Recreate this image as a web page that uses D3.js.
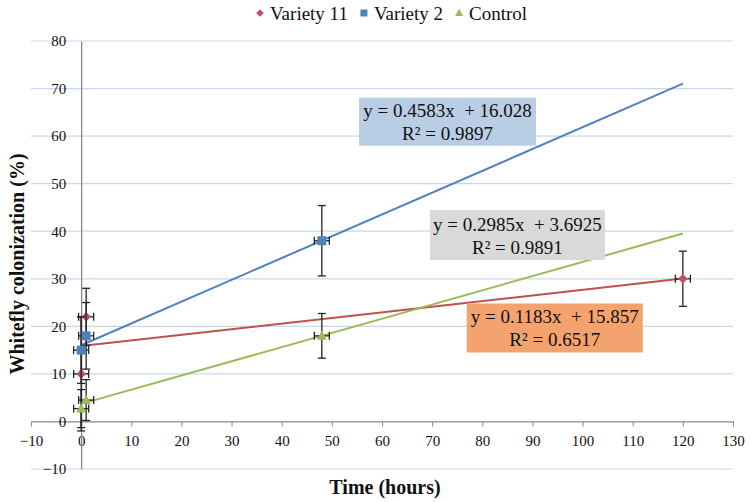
<!DOCTYPE html>
<html>
<head>
<meta charset="utf-8">
<script src="https://cdn.jsdelivr.net/npm/d3@7"></script>
<style>
  html, body { margin: 0; padding: 0; background: #fff; }
  svg { display: block; }
  text { font-family: "Liberation Serif", "Times New Roman", serif; }
</style>
</head>
<body>
<svg id="chart" width="750" height="502"></svg>
<script>
// ---- data ----
const seriesNames = ["Variety 11", "Variety 2", "Control"];
const variety11X = [0, 1, 120];
const variety11Y = [10, 22, 30];
const variety11Err = [12, 6, 5.8];
const variety2X = [0, 1, 48];
const variety2Y = [15, 18, 38];
const variety2Err = [7, 7, 7.4];
const controlX = [0, 1, 48];
const controlY = [2.7, 4.5, 18];
const controlErr = [4, 4.3, 4.7];
const xErr = 1.5;
// trendline coefficients (slope, intercept) and R²
const trendSlope = [0.1183, 0.4583, 0.2985];
const trendIntercept = [15.857, 16.028, 3.6925];
const trendR2 = ["0.6517", "0.9897", "0.9891"];
const trendRange = [0, 120];
const xTicks = [-10, 0, 10, 20, 30, 40, 50, 60, 70, 80, 90, 100, 110, 120, 130];
const yTicks = [-10, 0, 10, 20, 30, 40, 50, 60, 70, 80];
// annotation box centres in data coordinates
const labelX = [94.45, 73.07, 87.0];
const labelY = [19.65, 63.03, 39.2];

const colors = ["#C0504D", "#4F81BD", "#9BBB59"];
const markerColors = ["#C0506A", "#4F81BD", "#9BBB59"];
const boxFill = ["#F4A36E", "#B9CDE5", "#D9D9D9"];
const boxW = [176, 177, 175], boxH = [49, 48, 50];

const svg = d3.select("#chart");
const x = d3.scaleLinear().domain([-10, 130]).range([31, 733]);
const y = d3.scaleLinear().domain([-10, 80]).range([469, 41]);

// gridlines
svg.append("g").selectAll("line").data(yTicks.filter(d => d !== 0)).join("line")
  .attr("x1", x(-10)).attr("x2", x(130))
  .attr("y1", d => y(d)).attr("y2", d => y(d))
  .attr("stroke", "#C9D7EE").attr("stroke-width", 1.2);

// x axis
const xAxis = svg.append("g").attr("transform", `translate(0,${y(0)})`)
  .call(d3.axisBottom(x).tickValues(xTicks).tickSizeInner(5).tickSizeOuter(0).tickPadding(9).tickFormat(d3.format("d")));
xAxis.select(".domain").attr("stroke", "#888").attr("stroke-width", 1.3);
xAxis.selectAll(".tick line").attr("stroke", "#888");
xAxis.selectAll(".tick text").attr("font-size", 15).attr("fill", "#111")
  .style("font-family", '"Liberation Serif", serif');

// y axis
const yAxis = svg.append("g").attr("transform", `translate(${x(0)},0)`)
  .call(d3.axisLeft(y).tickValues(yTicks).tickSize(0).tickPadding(15).tickFormat(d3.format("d")));
yAxis.select(".domain").attr("stroke", "#888").attr("stroke-width", 1.3);
yAxis.selectAll(".tick text").attr("font-size", 15).attr("fill", "#111")
  .style("font-family", '"Liberation Serif", serif');

// axis titles
svg.append("text").attr("x", 385).attr("y", 494).attr("text-anchor", "middle")
  .attr("font-size", 20).attr("font-weight", "bold").attr("fill", "#111").text("Time (hours)");
svg.append("text").attr("transform", "translate(24,264) rotate(-90)").attr("text-anchor", "middle")
  .attr("font-size", 20).attr("font-weight", "bold").attr("fill", "#111").text("Whitefly colonization (%)");

const series = [
  { xs: variety11X, ys: variety11Y, err: variety11Err, shape: "diamond" },
  { xs: variety2X, ys: variety2Y, err: variety2Err, shape: "square" },
  { xs: controlX, ys: controlY, err: controlErr, shape: "triangle" }
];

function markerPath(shape, s) {
  if (shape === "diamond") return `M0,${-s}L${s},0L0,${s}L${-s},0Z`;
  if (shape === "square") return `M${-s},${-s}H${s}V${s}H${-s}Z`;
  return `M0,${-s * 1.1}L${s * 1.05},${s * 0.8}L${-s * 1.05},${s * 0.8}Z`;
}

// trendlines
series.forEach((s, i) => {
  svg.append("line")
    .attr("x1", x(trendRange[0])).attr("y1", y(trendSlope[i] * trendRange[0] + trendIntercept[i]))
    .attr("x2", x(trendRange[1])).attr("y2", y(trendSlope[i] * trendRange[1] + trendIntercept[i]))
    .attr("stroke", colors[i]).attr("stroke-width", 2);
});

// error bars and markers
series.forEach((s, i) => {
  const g = svg.append("g");
  const pts = s.xs.map((v, k) => ({ x: v, y: s.ys[k], e: s.err[k] }));
  pts.forEach(p => {
    const cx = x(p.x), cy = y(p.y);
    const top = y(p.y + p.e), bot = y(p.y - p.e);
    g.append("line").attr("x1", cx).attr("x2", cx).attr("y1", top).attr("y2", bot)
      .attr("stroke", "#222").attr("stroke-width", 1.3);
    [top, bot].forEach(yy => g.append("line").attr("x1", cx - 4).attr("x2", cx + 4)
      .attr("y1", yy).attr("y2", yy).attr("stroke", "#222").attr("stroke-width", 1.3));
    const l = x(p.x - xErr), r = x(p.x + xErr);
    g.append("line").attr("x1", l).attr("x2", r).attr("y1", cy).attr("y2", cy)
      .attr("stroke", "#222").attr("stroke-width", 1.3);
    [l, r].forEach(xx => g.append("line").attr("x1", xx).attr("x2", xx)
      .attr("y1", cy - 4).attr("y2", cy + 4).attr("stroke", "#222").attr("stroke-width", 1.3));
  });
  g.selectAll("path").data(pts).join("path")
    .attr("transform", p => `translate(${x(p.x)},${y(p.y)})`)
    .attr("d", markerPath(s.shape, s.shape === "square" ? 4.5 : 4.8))
    .attr("fill", markerColors[i]);
});

// equation boxes
series.forEach((s, i) => {
  const cx = x(labelX[i]), cy = y(labelY[i]);
  const g = svg.append("g");
  g.append("rect").attr("x", cx - boxW[i] / 2).attr("y", cy - boxH[i] / 2)
    .attr("width", boxW[i]).attr("height", boxH[i]).attr("fill", boxFill[i]);
  g.append("text").attr("x", cx).attr("y", cy - 11).attr("text-anchor", "middle")
    .attr("dominant-baseline", "central").attr("font-size", 19).attr("fill", "#111")
    .style("white-space", "pre")
    .text(`y = ${trendSlope[i]}x  + ${trendIntercept[i]}`);
  g.append("text").attr("x", cx).attr("y", cy + 12).attr("text-anchor", "middle")
    .attr("dominant-baseline", "central").attr("font-size", 19).attr("fill", "#111")
    .text(`R² = ${trendR2[i]}`);
});

// legend
const legend = svg.append("g");
let lx = 256;
const shapes = ["diamond", "square", "triangle"];
seriesNames.forEach((name, i) => {
  legend.append("path").attr("transform", `translate(${lx + 4},13)`)
    .attr("d", markerPath(shapes[i], shapes[i] === "square" ? 3.5 : 3.8))
    .attr("fill", markerColors[i]);
  const t = legend.append("text").attr("x", lx + 14).attr("y", 13)
    .attr("dominant-baseline", "central").attr("font-size", 19).attr("fill", "#111").text(name);
  lx += 14 + t.node().getComputedTextLength() + 12;
});
</script>
</body>
</html>
